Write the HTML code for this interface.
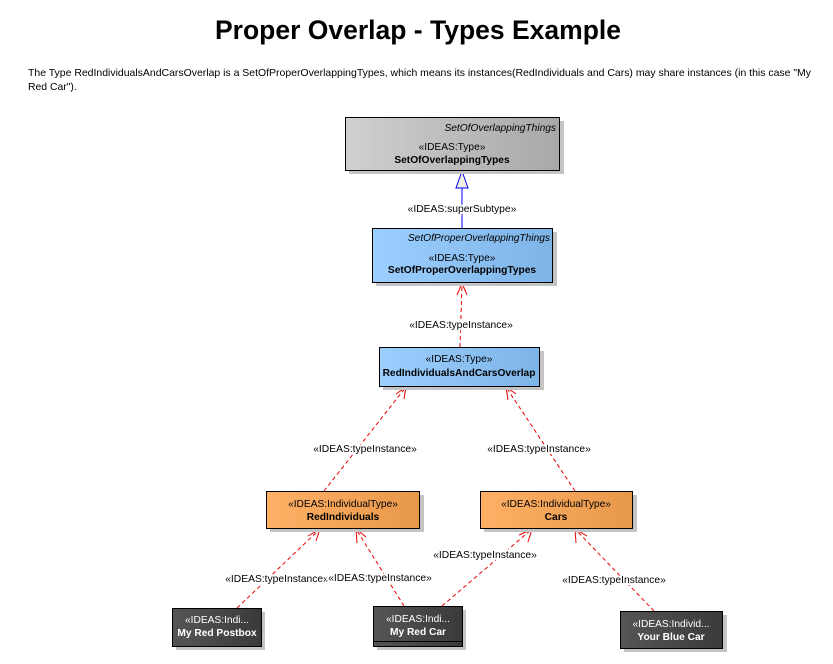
<!DOCTYPE html>
<html><head><style>
body{margin:0;width:833px;height:659px;background:#fff;overflow:hidden;font-family:"Liberation Sans",sans-serif;}
.lb text{paint-order:stroke;stroke:#fff;stroke-width:4px;}
</style></head><body>
<svg width="833" height="659" xmlns="http://www.w3.org/2000/svg" font-family="Liberation Sans, sans-serif">
<defs>
<linearGradient id="g" x1="0" x2="1"><stop offset="0" stop-color="#d0d0d0"/><stop offset="1" stop-color="#a8a8a8"/></linearGradient>
<linearGradient id="b" x1="0" x2="1"><stop offset="0" stop-color="#9ccfff"/><stop offset="1" stop-color="#7db4e6"/></linearGradient>
<linearGradient id="o" x1="0" x2="1"><stop offset="0" stop-color="#ffb066"/><stop offset="1" stop-color="#e8984a"/></linearGradient>
<linearGradient id="d" x1="0" x2="1"><stop offset="0" stop-color="#555"/><stop offset="1" stop-color="#3a3a3a"/></linearGradient>
</defs>
<text x="418" y="39" font-size="26.5" font-weight="bold" text-anchor="middle">Proper Overlap - Types Example</text>
<text x="28" y="76" font-size="10.4" textLength="783" lengthAdjust="spacingAndGlyphs">The Type RedIndividualsAndCarsOverlap is a SetOfProperOverlappingTypes, which means its instances(RedIndividuals and Cars) may share instances (in this case "My</text>
<text x="28" y="90" font-size="10.4">Red Car").</text>

<!-- connectors -->
<g stroke="#e00" fill="none" stroke-dasharray="4,3" stroke-width="1">
<line x1="460" y1="347" x2="462" y2="283"/>
<line x1="324" y1="491" x2="406" y2="387"/>
<line x1="575" y1="491" x2="506" y2="387"/>
<line x1="237" y1="608" x2="320" y2="529"/>
<line x1="404" y1="606" x2="356" y2="529"/>
<line x1="442" y1="606" x2="532" y2="529"/>
<line x1="654" y1="611" x2="575" y2="529"/>
</g>
<g stroke="#e00" fill="none" stroke-width="1">
<polyline points="457,295 462,283 467,295"/>
<polyline points="396,394 406,387 404,399"/>
<polyline points="508,400 506,387 516,394"/>
<polyline points="308,536 320,529 316,541"/>
<polyline points="357,543 356,529 366,537"/>
<polyline points="519,535 532,529 528,542"/>
<polyline points="576,543 575,529 587,536"/>
</g>
<line x1="462" y1="188" x2="462" y2="228" stroke="#00f"/>
<polygon points="462,171 456,188 468,188" fill="#f4f0e0" stroke="#00f"/>

<g font-size="10.3" text-anchor="middle" fill="#000" class="lb">
<text x="462" y="212">«IDEAS:superSubtype»</text>
<text x="461" y="328">«IDEAS:typeInstance»</text>
<text x="365" y="452">«IDEAS:typeInstance»</text>
<text x="539" y="452">«IDEAS:typeInstance»</text>
<text x="277" y="582">«IDEAS:typeInstance»</text>
<text x="380" y="581">«IDEAS:typeInstance»</text>
<text x="485" y="558">«IDEAS:typeInstance»</text>
<text x="614" y="583">«IDEAS:typeInstance»</text>
</g>

<!-- boxes -->
<g stroke="#000" stroke-width="1">
<rect x="349" y="121" width="215" height="53" fill="#c4c4c4" stroke="none"/>
<rect x="345.5" y="117.5" width="214" height="53" fill="url(#g)"/>
<rect x="376" y="232" width="181" height="54" fill="#c4c4c4" stroke="none"/>
<rect x="372.5" y="228.5" width="180" height="54" fill="url(#b)"/>
<rect x="383" y="351" width="161" height="39" fill="#c4c4c4" stroke="none"/>
<rect x="379.5" y="347.5" width="160" height="39" fill="url(#b)"/>
<rect x="270" y="495" width="154" height="37" fill="#c4c4c4" stroke="none"/>
<rect x="266.5" y="491.5" width="153" height="37" fill="url(#o)"/>
<rect x="484" y="495" width="153" height="37" fill="#c4c4c4" stroke="none"/>
<rect x="480.5" y="491.5" width="152" height="37" fill="url(#o)"/>
<rect x="176" y="612" width="89" height="38" fill="#c4c4c4" stroke="none"/>
<rect x="172.5" y="608.5" width="89" height="38" fill="url(#d)"/>
<rect x="377" y="610" width="89" height="40" fill="#c4c4c4" stroke="none"/>
<rect x="373.5" y="606.5" width="89" height="40" fill="url(#d)"/>
<line x1="373" y1="641.5" x2="462" y2="641.5"/>
<rect x="624" y="615" width="103" height="37" fill="#c4c4c4" stroke="none"/>
<rect x="620.5" y="611.5" width="102" height="37" fill="url(#d)"/>
</g>

<g font-size="10.2" text-anchor="middle">
<text x="556" y="131" text-anchor="end" font-style="italic">SetOfOverlappingThings</text>
<text x="452" y="150">«IDEAS:Type»</text>
<text x="452" y="163" font-weight="bold">SetOfOverlappingTypes</text>
<text x="550" y="241" text-anchor="end" font-style="italic">SetOfProperOverlappingThings</text>
<text x="462" y="261">«IDEAS:Type»</text>
<text x="462" y="273" font-weight="bold">SetOfProperOverlappingTypes</text>
<text x="459" y="362">«IDEAS:Type»</text>
<text x="459" y="376" font-weight="bold">RedIndividualsAndCarsOverlap</text>
<text x="343" y="507">«IDEAS:IndividualType»</text>
<text x="343" y="520" font-weight="bold">RedIndividuals</text>
<text x="556" y="507">«IDEAS:IndividualType»</text>
<text x="556" y="520" font-weight="bold">Cars</text>
<g fill="#fff">
<text x="217" y="623">«IDEAS:Indi...</text>
<text x="217" y="636" font-weight="bold">My Red Postbox</text>
<text x="418" y="622">«IDEAS:Indi...</text>
<text x="418" y="635" font-weight="bold">My Red Car</text>
<text x="671" y="627">«IDEAS:Individ...</text>
<text x="671" y="640" font-weight="bold">Your Blue Car</text>
</g>
</g>
</svg>
</body></html>
